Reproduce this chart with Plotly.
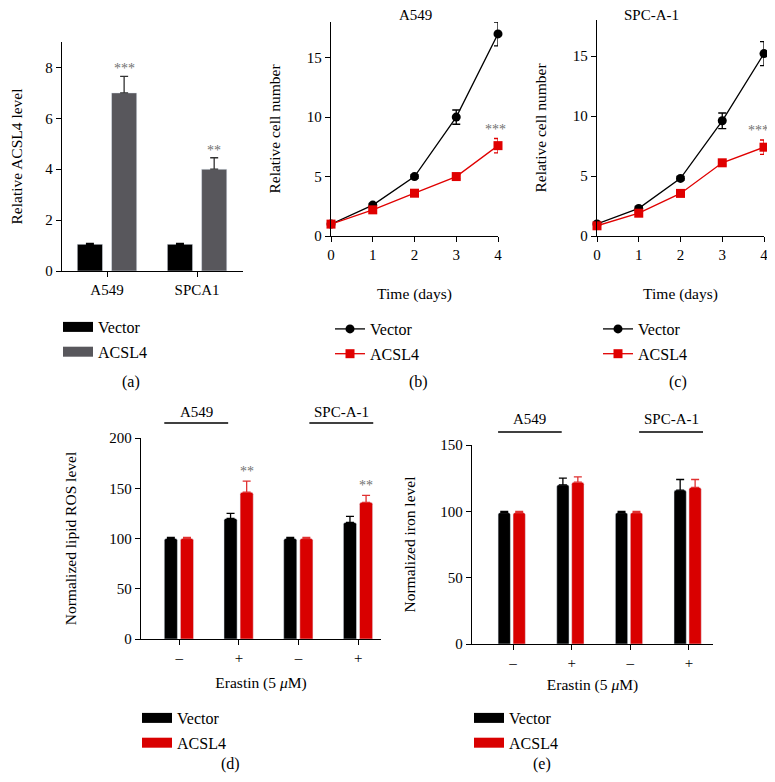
import plotly.graph_objects as go

W, H = 775, 782
OFF = 8  # page body margin of the html page
FONT = "Liberation Serif"
RED = "#d90000"
GRAY = "#58575c"

# (a) relative ACSL4 level
cells_a = ["A549", "SPCA1"]
vec_a = [1.05, 1.05]
vec_a_err = [0.03, 0.03]
acsl_a = [7.0, 4.0]
acsl_a_err = [0.65, 0.45]
stars_a = ["***", "**"]

# (b), (c) growth curves
days = [0, 1, 2, 3, 4]
vec_b = [1.0, 2.6, 5.0, 10.0, 17.0]
vec_b_err = [0.1, 0.15, 0.15, 0.6, 1.0]
acsl_b = [1.0, 2.2, 3.6, 5.0, 7.6]
acsl_b_err = [0.1, 0.1, 0.15, 0.2, 0.6]
vec_c = [1.0, 2.3, 4.8, 9.6, 15.2]
vec_c_err = [0.1, 0.15, 0.15, 0.65, 1.0]
acsl_c = [0.85, 1.9, 3.55, 6.1, 7.4]
acsl_c_err = [0.1, 0.1, 0.15, 0.2, 0.6]

# (d) lipid ROS, (e) iron
erastin = ["–", "+", "–", "+"]
vec_d = [100, 120, 100, 116]
vec_d_err = [1, 5, 1, 6]
acsl_d = [100, 146, 100, 136]
acsl_d_err = [1, 11, 1, 7]
stars_d = ["", "**", "", "**"]
vec_e = [99, 120, 99, 116]
vec_e_err = [1, 5, 1, 8]
acsl_e = [99, 122, 99, 118]
acsl_e_err = [1, 4, 1, 6]


def px_x(x):
    return (x - OFF) / W


def px_y(y):
    return 1 - (y - OFF) / H


def dx(a, b):
    return [px_x(a), px_x(b)]


def dy(top, bottom):
    return [px_y(bottom), px_y(top)]


axis_style = dict(showline=True, linecolor="black", linewidth=1.3, ticks="outside",
                  ticklen=5, tickwidth=1.3, tickcolor="black", showgrid=False,
                  zeroline=False, automargin=False,
                  tickfont=dict(family=FONT, size=15, color="black"),
                  title_font=dict(family=FONT, size=15.5, color="black"))


def one_sided(err, color):
    return dict(type="data", array=err, arrayminus=[0] * len(err), symmetric=False,
                color=color, thickness=1.3, width=4)


def legend_key(name, color, xa, ya, leg, grp):
    # thick line segment as a rectangular legend key for the bar series
    fig.add_scatter(x=[None], y=[None], name=name, mode="lines", line=dict(color=color, width=14),
                    xaxis=xa, yaxis=ya, legend=leg, legendgroup=grp, hoverinfo="skip")


fig = go.Figure()

# ---- (a)
xa = list(range(len(cells_a)))
fig.add_bar(x=xa, y=vec_a, name="Vector", marker_color="black", width=0.28, offset=-0.33,
            error_y=one_sided(vec_a_err, "black"), xaxis="x", yaxis="y",
            showlegend=False, legendgroup="a1", cliponaxis=False)
fig.add_bar(x=xa, y=acsl_a, name="ACSL4", marker_color=GRAY, width=0.28, offset=0.05,
            error_y=one_sided(acsl_a_err, "#333333"), xaxis="x", yaxis="y",
            showlegend=False, legendgroup="a2", cliponaxis=False)
legend_key("Vector", "black", "x", "y", "legend", "a1")
legend_key("ACSL4", GRAY, "x", "y", "legend", "a2")

# ---- (b)
fig.add_scatter(x=days, y=vec_b, name="Vector", mode="lines+markers",
                line=dict(color="black", width=1.3), marker=dict(symbol="circle", size=9, color="black"),
                error_y=dict(type="data", array=vec_b_err, color="black", thickness=1.3, width=4),
                xaxis="x2", yaxis="y2", legend="legend2", legendgroup="b1", cliponaxis=False)
fig.add_scatter(x=days, y=acsl_b, name="ACSL4", mode="lines+markers",
                line=dict(color="#e00000", width=1.3), marker=dict(symbol="square", size=9, color="#e00000"),
                error_y=dict(type="data", array=acsl_b_err, color="#e00000", thickness=1.3, width=4),
                xaxis="x2", yaxis="y2", legend="legend2", legendgroup="b2", cliponaxis=False)

# ---- (c)
fig.add_scatter(x=days, y=vec_c, name="Vector", mode="lines+markers",
                line=dict(color="black", width=1.3), marker=dict(symbol="circle", size=9, color="black"),
                error_y=dict(type="data", array=vec_c_err, color="black", thickness=1.3, width=4),
                xaxis="x3", yaxis="y3", legend="legend3", legendgroup="c1", cliponaxis=False)
fig.add_scatter(x=days, y=acsl_c, name="ACSL4", mode="lines+markers",
                line=dict(color="#e00000", width=1.3), marker=dict(symbol="square", size=9, color="#e00000"),
                error_y=dict(type="data", array=acsl_c_err, color="#e00000", thickness=1.3, width=4),
                xaxis="x3", yaxis="y3", legend="legend3", legendgroup="c2", cliponaxis=False)

# ---- (d)
xd = list(range(len(erastin)))
fig.add_bar(x=xd, y=vec_d, name="Vector", marker=dict(color="black", cornerradius=2), width=0.22, offset=-0.25,
            error_y=one_sided(vec_d_err, "black"), xaxis="x4", yaxis="y4",
            showlegend=False, legendgroup="d1", cliponaxis=False)
fig.add_bar(x=xd, y=acsl_d, name="ACSL4", marker=dict(color=RED, cornerradius=2), width=0.22, offset=0.02,
            error_y=one_sided(acsl_d_err, "#e03030"), xaxis="x4", yaxis="y4",
            showlegend=False, legendgroup="d2", cliponaxis=False)
legend_key("Vector", "black", "x4", "y4", "legend4", "d1")
legend_key("ACSL4", RED, "x4", "y4", "legend4", "d2")

# ---- (e)
fig.add_bar(x=xd, y=vec_e, name="Vector", marker=dict(color="black", cornerradius=2), width=0.21, offset=-0.255,
            error_y=one_sided(vec_e_err, "black"), xaxis="x5", yaxis="y5",
            showlegend=False, legendgroup="e1", cliponaxis=False)
fig.add_bar(x=xd, y=acsl_e, name="ACSL4", marker=dict(color=RED, cornerradius=2), width=0.21, offset=0.0,
            error_y=one_sided(acsl_e_err, "#e03030"), xaxis="x5", yaxis="y5",
            showlegend=False, legendgroup="e2", cliponaxis=False)
legend_key("Vector", "black", "x5", "y5", "legend5", "e1")
legend_key("ACSL4", RED, "x5", "y5", "legend5", "e2")

fig.update_layout(
    width=W, height=H, margin=dict(l=0, r=0, t=0, b=0),
    paper_bgcolor="white", plot_bgcolor="white", barmode="overlay",
    font=dict(family=FONT, size=15, color="black"),
    xaxis=dict(axis_style, domain=dx(62, 243), range=[-0.5, 1.51], tickvals=xa, ticktext=cells_a,
               anchor="y"),
    yaxis=dict(axis_style, domain=dy(42, 271), range=[0, 9], tickvals=[0, 2, 4, 6, 8],
               anchor="x", title=dict(text="Relative ACSL4 level", standoff=31)),
    xaxis2=dict(axis_style, domain=dx(331, 498), range=[0, 4], tickvals=days, anchor="y2",
                title=dict(text="Time (days)", standoff=25)),
    yaxis2=dict(axis_style, domain=dy(22, 236), range=[0, 18], tickvals=[0, 5, 10, 15], anchor="x2",
                title=dict(text="Relative cell number", standoff=22)),
    xaxis3=dict(axis_style, domain=dx(597, 764), range=[0, 4], tickvals=days, anchor="y3",
                title=dict(text="Time (days)", standoff=25)),
    yaxis3=dict(axis_style, domain=dy(20, 236), range=[0, 18], tickvals=[0, 5, 10, 15], anchor="x3",
                title=dict(text="Relative cell number", standoff=22)),
    xaxis4=dict(axis_style, domain=dx(141, 381), range=[-0.64, 3.38], tickvals=xd, ticktext=erastin,
                anchor="y4", title=dict(text="Erastin (5 <i>μ</i>M)", standoff=11)),
    yaxis4=dict(axis_style, domain=dy(438, 639), range=[0, 200], tickvals=[0, 50, 100, 150, 200],
                anchor="x4", title=dict(text="Normalized lipid ROS level", standoff=28)),
    xaxis5=dict(axis_style, domain=dx(472, 713), range=[-0.70, 3.41], tickvals=xd, ticktext=erastin,
                anchor="y5", title=dict(text="Erastin (5 <i>μ</i>M)", standoff=8)),
    yaxis5=dict(axis_style, domain=dy(445, 644), range=[0, 150], tickvals=[0, 50, 100, 150],
                anchor="x5", title=dict(text="Normalized iron level", standoff=20)),
)

legend_style = dict(xanchor="left", yanchor="top", bgcolor="rgba(0,0,0,0)", tracegroupgap=1,
                    font=dict(family=FONT, size=16, color="black"), itemwidth=30)
fig.update_layout(
    legend=dict(legend_style, x=px_x(58), y=px_y(310)),
    legend2=dict(legend_style, x=px_x(330), y=px_y(312)),
    legend3=dict(legend_style, x=px_x(598), y=px_y(312)),
    legend4=dict(legend_style, x=px_x(137), y=px_y(701)),
    legend5=dict(legend_style, x=px_x(469), y=px_y(701)),
)

ann = []
# panel labels
for txt, x, y in [("(a)", 120, 382), ("(b)", 419, 382), ("(c)", 689, 382), ("(d)", 219, 775), ("(e)", 553, 775)]:
    ann.append(dict(text=txt, x=px_x(x), y=px_y(y), xref="paper", yref="paper", showarrow=False,
                    font=dict(family=FONT, size=16)))
# panel titles
for txt, x in [("A549", 415), ("SPC-A-1", 681)]:
    ann.append(dict(text=txt, x=px_x(x), y=1, xref="paper", yref="paper", yanchor="top",
                    yshift=3, showarrow=False, font=dict(family=FONT, size=15)))
# group headers for (d) and (e)
headers = [("x4", -0.25, 0.82, 412, 423, "A549"), ("x4", 2.18, 3.25, 412, 423, "SPC-A-1"),
           ("x5", -0.255, 0.83, 419, 432, "A549"), ("x5", 2.15, 3.24, 419, 432, "SPC-A-1")]
shapes = []
for xr, x0, x1, ty, ly, txt in headers:
    shapes.append(dict(type="line", xref=xr, yref="paper", x0=x0, x1=x1, y0=px_y(ly), y1=px_y(ly),
                       line=dict(color="black", width=1.3)))
    ann.append(dict(text=txt, x=(x0 + x1) / 2, y=px_y(ty), xref=xr, yref="paper", showarrow=False,
                    font=dict(family=FONT, size=15)))
# significance marks
star_font = dict(family=FONT, size=14, color="#707070")
for i, s in enumerate(stars_a):
    ann.append(dict(text=s, x=i + 0.19, y=acsl_a[i] + acsl_a_err[i], xref="x", yref="y",
                    yanchor="bottom", yshift=-2, showarrow=False, font=star_font))
ann.append(dict(text="***", x=4, y=acsl_b[-1] + acsl_b_err[-1], xref="x2", yref="y2",
                yanchor="bottom", yshift=0, xshift=-3, showarrow=False, font=star_font))
ann.append(dict(text="***", x=4, y=acsl_c[-1] + acsl_c_err[-1], xref="x3", yref="y3",
                yanchor="bottom", yshift=0, xshift=-6, showarrow=False, font=star_font))
for i, s in enumerate(stars_d):
    if s:
        ann.append(dict(text=s, x=i + 0.13, y=acsl_d[i] + acsl_d_err[i], xref="x4", yref="y4",
                        yanchor="bottom", yshift=0, showarrow=False, font=star_font))

fig.update_layout(annotations=ann, shapes=shapes)
fig.write_html("out.html")
